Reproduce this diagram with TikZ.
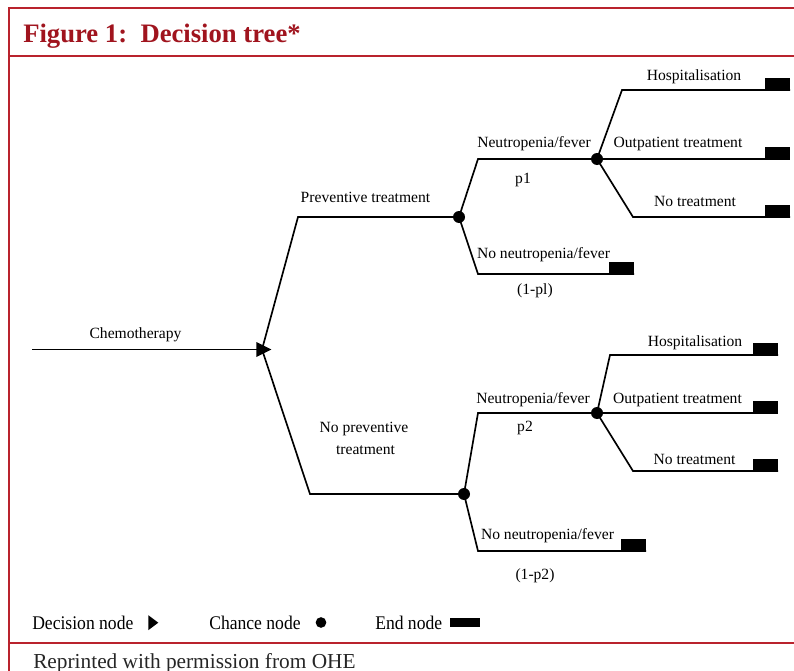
\documentclass[tikz,border=0pt]{standalone}
\usepackage{fontspec}
\setmainfont{Liberation Serif}
\newfontfamily\legfont{Liberation Serif}[FakeStretch=0.91]
\usetikzlibrary{shapes.geometric}
\definecolor{framered}{RGB}{185,35,45}
\definecolor{titlered}{RGB}{160,20,30}
\begin{document}
\begin{tikzpicture}[x=0.75pt,y=-0.75pt,
  tl/.style={font=\fontsize{11.7}{13}\selectfont, anchor=base, inner sep=0},
  lg/.style={font=\legfont\fontsize{14.5}{16}\selectfont, anchor=base west, inner sep=0},
  br/.style={line width=1.25pt, line join=miter},
  chance/.style={circle, fill=black, inner sep=0, minimum size=9pt},
  endbox/.style={rectangle, fill=black, inner sep=0, minimum width=18.75pt, minimum height=9pt, anchor=south east},
  dtri/.style={isosceles triangle, isosceles triangle stretches, fill=black, inner sep=0, anchor=apex},
  frameline/.style={draw=framered, line width=1.5pt}]
\useasboundingbox (0,0) rectangle (794,671);
% frame
\draw[frameline] (794,8) -- (9,8) -- (9,671);
\draw[frameline] (9,56) -- (794,56);
\draw[frameline] (9,643) -- (794,643);
\node[anchor=base west, inner sep=0, text=titlered, font=\bfseries\fontsize{20}{24}\selectfont] (title) at (23,42) {Figure 1:\ \ Decision tree*};
% tree points
\coordinate (start) at (32,349.5);
\coordinate (dpt) at (262,349.5);
\coordinate (k1) at (298,217);
\node[chance] (c1) at (459,217) {};
\coordinate (k2) at (310,494);
\node[chance] (c2) at (464,494) {};
\coordinate (k3) at (478,159);
\node[chance] (c3) at (597,159) {};
\coordinate (k4) at (478,274);
\node[endbox] (e4) at (634,274) {};
\coordinate (k5) at (622,90);
\node[endbox] (e1) at (790,90) {};
\node[endbox] (e2) at (790,159) {};
\coordinate (k6) at (633,217);
\node[endbox] (e3) at (790,217) {};
\coordinate (k7) at (478,413);
\node[chance] (c4) at (597,413) {};
\coordinate (k8) at (478,551);
\node[endbox] (e8) at (646,551) {};
\coordinate (k9) at (610,355);
\node[endbox] (e5) at (778,355) {};
\node[endbox] (e6) at (778,413) {};
\coordinate (k10) at (633,471);
\node[endbox] (e7) at (778,471) {};
% connectors
\draw[br] (start) -- (dpt);
\draw[br] (dpt) -- (k1) -- (c1.center);
\draw[br] (dpt) -- (k2) -- (c2.center);
\draw[br] (c1.center) -- (k3) -- (c3.center);
\draw[br] (c1.center) -- (k4) -- (e4.south east);
\draw[br] (c3.center) -- (k5) -- (e1.south east);
\draw[br] (c3.center) -- (e2.south east);
\draw[br] (c3.center) -- (k6) -- (e3.south east);
\draw[br] (c2.center) -- (k7) -- (c4.center);
\draw[br] (c2.center) -- (k8) -- (e8.south east);
\draw[br] (c4.center) -- (k9) -- (e5.south east);
\draw[br] (c4.center) -- (e6.south east);
\draw[br] (c4.center) -- (k10) -- (e7.south east);
\node[dtri, minimum width=11.25pt, minimum height=11.25pt] (dn) at (272,349.5) {};
% labels
\node[tl] (tchemo) at (135.5,338) {Chemotherapy};
\node[tl] (tprev) at (365.5,202) {Preventive treatment};
\node[tl] (tnoprev1) at (364,432) {No preventive};
\node[tl] (tnoprev2) at (365.5,454) {treatment};
\node[tl] (tnf1) at (534,147) {Neutropenia/fever};
\node[tl] (tp1) at (523,183) {p1};
\node[tl] (tnnf1) at (543.5,258) {No neutropenia/fever};
\node[tl] (tq1) at (535,294) {(1-pl)};
\node[tl] (th1) at (694,80) {Hospitalisation};
\node[tl] (to1) at (678,147) {Outpatient treatment};
\node[tl] (tn1) at (695,206) {No treatment};
\node[tl] (th2) at (695,346) {Hospitalisation};
\node[tl] (tnf2) at (533,403) {Neutropenia/fever};
\node[tl] (to2) at (677.5,403) {Outpatient treatment};
\node[tl] (tp2) at (525,431) {p2};
\node[tl] (tn2) at (694.5,464) {No treatment};
\node[tl] (tnnf2) at (547.5,539) {No neutropenia/fever};
\node[tl] (tq2) at (535,579) {(1-p2)};
% legend
\node[lg] (ldec) at (32,629) {Decision node};
\node[dtri, minimum width=11.25pt, minimum height=7.5pt] (ltri) at (159,622.7) {};
\node[lg] (lcha) at (209,629) {Chance node};
\node[chance, minimum size=8pt] (ldot) at (321,622.5) {};
\node[lg] (lend) at (375,629) {End node};
\node[rectangle, fill=black, inner sep=0, minimum width=22.5pt, minimum height=6.75pt] (lbox) at (465,622.5) {};
% footer
\node[anchor=base west, inner sep=0, font=\fontsize{16}{18}\selectfont, text=black!85] (rep) at (33,668) {Reprinted with permission from OHE};
\end{tikzpicture}
\end{document}
